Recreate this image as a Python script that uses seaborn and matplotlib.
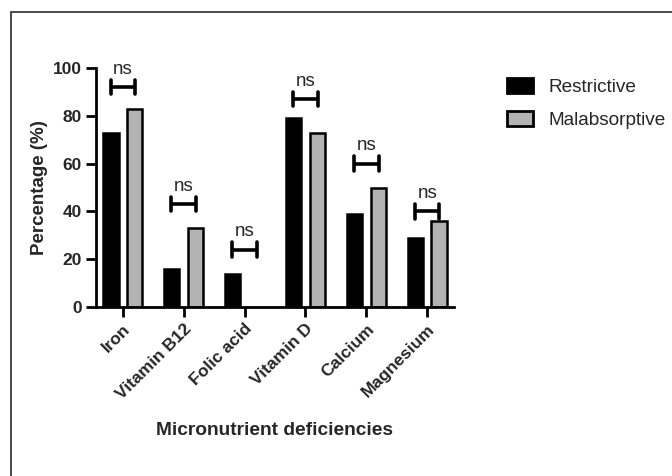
import numpy as np
import pandas as pd
import matplotlib
matplotlib.use("Agg")
import matplotlib.pyplot as plt
import seaborn as sns
from matplotlib.patches import Rectangle

# data
nutrients = ["Iron", "Vitamin B12", "Folic acid", "Vitamin D", "Calcium", "Magnesium"]
restrictive = [73, 16, 14, 79, 39, 29]
malabsorptive = [83, 33, 0, 73, 50, 36]
ns_heights = [92, 43, 24, 87, 60, 40]
groups = ["Restrictive", "Malabsorptive"]

df = pd.DataFrame({
    "nutrient": nutrients * 2,
    "group": [groups[0]] * len(nutrients) + [groups[1]] * len(nutrients),
    "pct": restrictive + malabsorptive,
})

sns.set_theme(style="ticks")
plt.rcParams["font.family"] = ["Liberation Sans", "DejaVu Sans"]

fig = plt.figure(figsize=(6.72, 4.76), dpi=100)
ax = fig.add_axes([96 / 672, 1 - 307 / 476, (454 - 96) / 672, 239 / 476])

sns.barplot(data=df, x="nutrient", y="pct", hue="group", order=nutrients,
            hue_order=groups, palette=["black", "#b3b3b3"], width=0.78, gap=0.36,
            edgecolor="black", linewidth=1.8, errorbar=None, ax=ax)

# a zero bar leaves no mark in the original
for p in ax.patches:
    if p.get_height() == 0:
        p.set_visible(False)

# significance brackets
for i, h in enumerate(ns_heights):
    x0, x1 = i - 0.2, i + 0.2
    ax.plot([x0, x1], [h, h], color="black", lw=2.6, solid_capstyle="butt", clip_on=False)
    ax.plot([x0, x0], [h - 3, h + 3], color="black", lw=2.6, clip_on=False)
    ax.plot([x1, x1], [h - 3, h + 3], color="black", lw=2.6, clip_on=False)
    ax.text(i, h + 7.5, "ns", ha="center", va="center", fontsize=13.5, clip_on=False)

ax.set_ylim(0, 100)
ax.set_xlim(-0.44, 5.44)
ax.set_yticks([0, 20, 40, 60, 80, 100])
sns.despine(ax=ax)
for s in ["left", "bottom"]:
    ax.spines[s].set_linewidth(2)
    ax.spines[s].set_color("black")
ax.tick_params(axis="both", width=2, length=7.5, color="black", labelsize=12.5, pad=2.8)
for lab in ax.get_yticklabels() + ax.get_xticklabels():
    lab.set_fontweight("bold")
plt.setp(ax.get_xticklabels(), rotation=45, ha="right", rotation_mode="anchor")

ax.set_ylabel("Percentage (%)", fontsize=13.5, fontweight="bold")
ax.yaxis.set_label_coords(-0.134, 0.5)
ax.set_xlabel("Micronutrient deficiencies", fontsize=13.8, fontweight="bold", labelpad=14)

ax.get_legend().remove()
handles = [Rectangle((0, 0), 1, 1, facecolor=c, edgecolor="black", linewidth=2)
           for c in ["black", "#b3b3b3"]]
fig.legend(handles, groups, loc="upper left", bbox_to_anchor=(507 / 672, 1 - 78 / 476),
           frameon=False, fontsize=13.7, handlelength=1.37, handleheight=0.8,
           labelspacing=0.8, handletextpad=0.8, borderpad=0, borderaxespad=0)

# image frame (cut off at right and bottom)
fig.patches.append(Rectangle((11 / 672, -0.1), 1.2, 1 - 12 / 476 + 0.1,
                             transform=fig.transFigure, fill=False,
                             edgecolor="#3a3a3a", linewidth=1.3))

fig.savefig("out.png", dpi=100)
